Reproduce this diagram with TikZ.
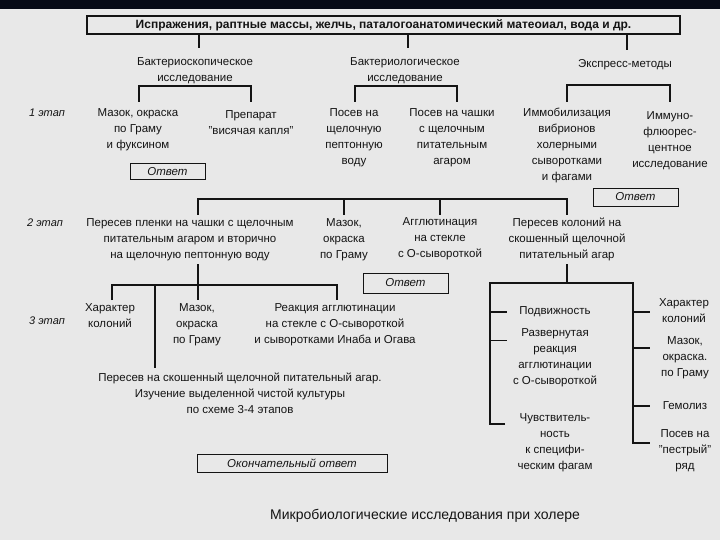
\documentclass[tikz,border=0pt]{standalone}
\usepackage{fontspec}
\setmainfont{Liberation Sans}
\definecolor{bg}{RGB}{232,232,232}
\definecolor{band}{RGB}{6,10,22}
\definecolor{ink}{RGB}{20,20,20}
\begin{document}
\begin{tikzpicture}[x=1pt,y=-1pt,
  ln/.style={line width=1.1pt, draw=ink},
  tk/.style={line width=0.8pt, draw=ink},
  t/.style={align=center, inner sep=0pt, text=ink, font=\fontsize{11.5}{16}\selectfont},
  stg/.style={inner sep=0pt, text=ink, font=\fontsize{11}{16}\selectfont\itshape},
  ans/.style={draw=ink, line width=0.9pt, inner sep=0pt, text=ink, font=\fontsize{11.5}{12}\selectfont\itshape}]
\fill[bg] (0,0) rectangle (720,540);
\fill[band] (0,0) rectangle (720,9);
\useasboundingbox (0,0) rectangle (720,540);

% source box
\node[draw=ink, line width=1.1pt, minimum width=593pt, minimum height=18pt, inner sep=0pt,
  text=ink, font=\bfseries\fontsize{12}{12}\selectfont] (src) at (383.5,25)
  {Испражения, раптные массы, желчь, паталогоанатомический матеоиал, вода и др.};

\coordinate (jA) at (199,48);
\coordinate (jB) at (408,48);
\coordinate (jC) at (627,50);
\draw[ln] (src.south -| jA) -- (jA);
\draw[ln] (src.south -| jB) -- (jB);
\draw[ln] (src.south -| jC) -- (jC);

\node[t] (hA) at (195,71) {Бактериоскопическое\\исследование};
\node[t] (hB) at (405,71) {Бактериологическое\\исследование};
\node[t] (hC) at (625,65) {Экспресс-методы};

% level-2 brackets
\coordinate (yA) at (0,86);
\coordinate (kA1) at (139,102); \coordinate (kA2) at (251,102);
\draw[ln] (kA1) |- (yA -| kA2) -- (kA2);
\coordinate (kB1) at (355,102); \coordinate (kB2) at (457,102);
\draw[ln] (kB1) |- (yA -| kB2) -- (kB2);
\coordinate (yC) at (0,85);
\coordinate (kC1) at (567,102); \coordinate (kC2) at (670,102);
\draw[ln] (kC1) |- (yC -| kC2) -- (kC2);

% level 2
\node[stg] (s1) at (47,113) {1 этап};
\node[t] (m1) at (138,130) {Мазок, окраска\\по Граму\\и фуксином};
\node[t] (p1) at (251,123) {Препарат\\"висячая капля"};
\node[ans, minimum width=75pt, minimum height=16pt] (a1) at (167.5,171.5) {Ответ};
\node[t] (b1) at (354,137.5) {Посев на\\щелочную\\пептонную\\воду};
\node[t] (b2) at (452,137.5) {Посев на чашки\\с щелочным\\питательным\\агаром};
\node[t] (e1) at (567,145.5) {Иммобилизация\\вибрионов\\холерными\\сыворотками\\и фагами};
\node[t] (e2) at (670,140.5) {Иммуно-\\флюорес-\\центное\\исследование};
\node[ans, minimum width=85pt, minimum height=18pt] (a2) at (635.5,197) {Ответ};

% level-3 bracket
\coordinate (y3) at (0,199);
\coordinate (k31) at (198,215); \coordinate (k32) at (344,215);
\coordinate (k33) at (440,215); \coordinate (k34) at (567,215);
\draw[ln] (k31) |- (y3 -| k34) -- (k34);
\draw[ln] (y3 -| k32) -- (k32);
\draw[ln] (y3 -| k33) -- (k33);

% level 3
\node[stg] (s2) at (45,223) {2 этап};
\node[t] (c1) at (190,239.5) {Пересев пленки на чашки с щелочным\\питательным агаром и вторично\\на щелочную пептонную воду};
\node[t] (c2) at (344,239.5) {Мазок,\\окраска\\по Граму};
\node[t] (c3) at (440,239) {Агглютинация\\на стекле\\с О-сывороткой};
\node[t] (c4) at (567,239) {Пересев колоний на\\скошенный щелочной\\питательный агар};
\node[ans, minimum width=85pt, minimum height=20pt] (a3) at (405.5,283) {Ответ};

% level-4 left bracket
\coordinate (k4t) at (198,264);
\coordinate (k4m) at (198,300);
\draw[ln] (k4t) -- (k4m);
\coordinate (y4) at (0,285);
\coordinate (k41) at (112,300); \coordinate (k42) at (155,368); \coordinate (k43) at (337,300);
\draw[ln] (k41) |- (y4 -| k43) -- (k43);
\draw[ln] (y4 -| k42) -- (k42);

% level 4 left
\node[stg] (s3) at (47,321) {3 этап};
\node[t] (d1) at (110,315.5) {Характер\\колоний};
\node[t] (d2) at (197,325) {Мазок,\\окраска\\по Граму};
\node[t] (d3) at (335,325) {Реакция агглютинации\\на стекле с О-сывороткой\\и сыворотками Инаба и Огава};
\node[t] (d4) at (240,393) {Пересев на скошенный щелочной питательный агар.\\Изучение выделенной чистой культуры\\по схеме 3-4 этапов};
\node[ans, minimum width=190pt, minimum height=18pt] (fin) at (292,463) {Окончательный ответ};

% lower right bracket
\coordinate (k5t) at (567,264);
\coordinate (y5) at (0,283);
\draw[ln] (k5t) -- (y5 -| k5t);
\coordinate (L) at (490,0); \coordinate (R) at (633,0);
\coordinate (Lb) at (505,424); \coordinate (Rb) at (650,443);
\draw[ln] (Lb) -| (y5 -| L) -- (y5 -| R) |- (Rb);
\coordinate (tL1) at (507,312); \coordinate (tL2) at (507,340);
\draw[ln] (tL1 -| L) -- (tL1);
\draw[tk] (tL2 -| L) -- (tL2);
\coordinate (tR1) at (650,312); \coordinate (tR2) at (650,348); \coordinate (tR3) at (650,406);
\draw[ln] (tR1 -| R) -- (tR1);
\draw[ln] (tR2 -| R) -- (tR2);
\draw[ln] (tR3 -| R) -- (tR3);

\node[t] (f1) at (555,312) {Подвижность};
\node[t] (f2) at (555,357.5) {Развернутая\\реакция\\агглютинации\\с О-сывороткой};
\node[t] (f3) at (555,443) {Чувствитель-\\ность\\к специфи-\\ческим фагам};
\node[t] (g1) at (684,311) {Характер\\колоний};
\node[t] (g2) at (685,358) {Мазок,\\окраска.\\по Граму};
\node[t] (g3) at (685,406) {Гемолиз};
\node[t] (g4) at (685,451) {Посев на\\"пестрый"\\ряд};

\node[inner sep=0pt, text=ink, font=\fontsize{14}{16}\selectfont] (cap) at (425,516) {Микробиологические исследования при холере};
\end{tikzpicture}
\end{document}
